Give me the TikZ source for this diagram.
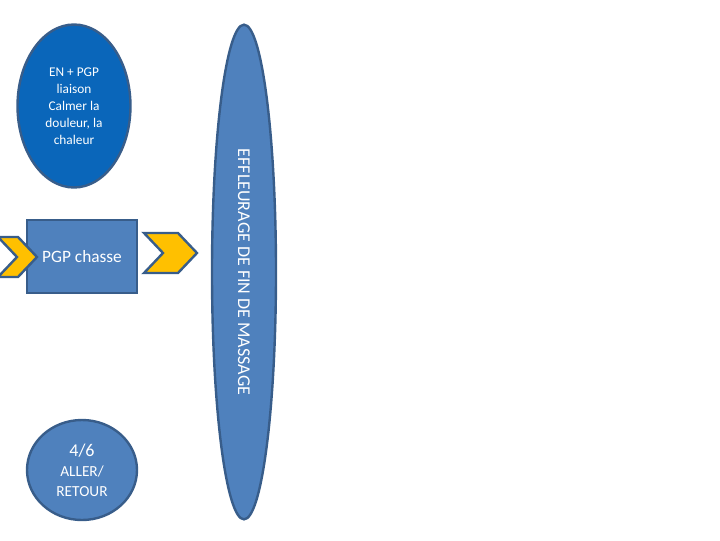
\documentclass[tikz,border=0pt]{standalone}
\usepackage{fontspec}
\setmainfont{Carlito}
\usetikzlibrary{shapes}
\definecolor{boxblue}{HTML}{4F81BD}
\definecolor{deepblue}{HTML}{0A66BA}
\definecolor{edgeblue}{HTML}{385D8A}
\definecolor{chevron}{HTML}{FFC000}
\tikzset{x=0.75pt,y=-0.75pt,
  every node/.style={text=white,align=center,inner sep=0pt},
  blob/.style={ellipse,draw=edgeblue,line width=1.8pt,fill=boxblue},
  card/.style={rectangle,draw=edgeblue,line width=1.8pt,fill=boxblue},
  chev/.style={draw=edgeblue,line width=1.8pt,fill=chevron,line join=miter}}

\begin{document}
\begin{tikzpicture}
    \useasboundingbox (0,0) rectangle (720,540);
    \clip (0,0) rectangle (720,540);
    \node[blob,fill=deepblue,minimum width=84.75pt,minimum height=122.25pt,
      font=\fontsize{10}{12.75}\selectfont] (calm) at (74,106)
      {EN + PGP\\liaison\\Calmer la\\douleur, la\\chaleur};
    \node[card,minimum width=82.5pt,minimum height=54.75pt,
      font=\fontsize{13}{15}\selectfont] (chasse) at (82,256.5) {PGP chasse};
    \node[blob,rotate=-90,minimum width=371pt,minimum height=48pt,
      font=\fontsize{13.5}{15}\selectfont] (fin) at (244,272)
      {EFFLEURAGE DE FIN DE MASSAGE};
    \node[blob,minimum width=82.5pt,minimum height=75pt,
      font=\fontsize{11.5}{15}\selectfont] (tour) at (82,470)
      {{\fontsize{13.5}{15}\selectfont 4/6}\\ALLER/\\RETOUR};
    % chevrons
    \draw[chev] (-2,237) -- (18,237) -- (37,257) -- (18,277) -- (-2,277) -- (17,257) -- cycle;
    \draw[chev] (144,233) -- (178,233) -- (197,253) -- (178,273) -- (144,273) -- (163,253) -- cycle;
\end{tikzpicture}
\end{document}
